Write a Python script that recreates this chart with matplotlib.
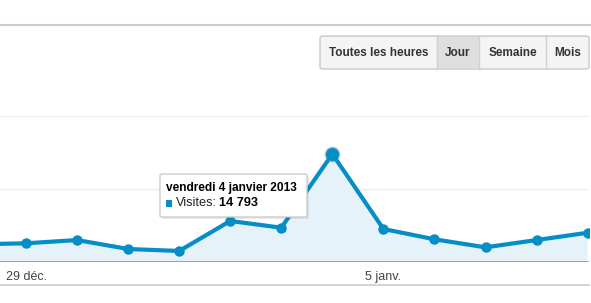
import datetime as dt
import matplotlib
matplotlib.use("Agg")
import matplotlib.pyplot as plt
import matplotlib.dates as mdates
from matplotlib.patches import FancyBboxPatch, Rectangle
from matplotlib.lines import Line2D

plt.rcParams["font.family"] = ["Liberation Sans", "DejaVu Sans"]

# daily visits, 28 Dec 2012 -> 9 Jan 2013 (first point sits off the left edge)
days = ["2012-12-28", "2012-12-29", "2012-12-30", "2012-12-31", "2013-01-01",
        "2013-01-02", "2013-01-03", "2013-01-04", "2013-01-05", "2013-01-06",
        "2013-01-07", "2013-01-08", "2013-01-09"]
visits = [2420, 2560, 3010, 1780, 1510, 5620, 4700, 14793, 4520, 3110,
          2010, 3010, 4010]
tick_days = ["2012-12-29", "2013-01-05"]
tick_labels = ["29 déc.", "5 janv."]
grid_vals = [10000, 20000]
buttons = ["Toutes les heures", "Jour", "Semaine", "Mois"]
active_button = "Jour"
hover_day = "2013-01-04"
hover_text = "vendredi 4 janvier 2013"

LINE = "#058DC7"
FILL = "#E6F2F9"
TXT = "#333333"

W, H = 591, 303
fig = plt.figure(figsize=(W / 100, H / 100), dpi=100)
fig.patch.set_facecolor("white")


def fx(x):
    return x / W


def fy(y):
    return 1 - y / H


dates = [dt.datetime.strptime(d, "%Y-%m-%d") for d in days]
xnum = mdates.date2num(dates)
ref = mdates.date2num(dt.datetime(2012, 12, 29))
px_per_day = 51.06

ax = fig.add_axes([0, fy(262), fx(589), fy(24) - fy(262)])
ax.set_xlim(ref - 26 / px_per_day, ref + (589 - 26) / px_per_day)
ax.set_ylim(0, (262 - 24) / 73 * 10000)
for s in ax.spines.values():
    s.set_visible(False)
ax.set_yticks([])

for g in grid_vals:
    ax.axhline(g, color="#eeeeee", lw=1, zorder=0)

ax.fill_between(xnum, visits, 0, color=FILL, lw=0, zorder=1)
ax.plot(xnum, visits, color=LINE, lw=3.0, marker="o", markersize=6.5,
        solid_joinstyle="round", zorder=3, clip_on=True)

# hovered point glow
hi = days.index(hover_day)
ax.plot(xnum[hi], visits[hi], "o", color="#6b8fa3", markersize=10.5,
        alpha=0.35, zorder=4)
ax.plot(xnum[hi], visits[hi], "o", color=LINE, markersize=8.5, zorder=5)

ax.axhline(0, color="#8a8a8a", lw=1.8, zorder=6)

ticks = mdates.date2num([dt.datetime.strptime(d, "%Y-%m-%d") for d in tick_days])
ax.set_xticks(ticks)
ax.set_xticklabels(tick_labels, fontsize=9, color="#444444")
ax.tick_params(axis="x", length=0, pad=6.2)

# frame lines
fig.add_artist(Line2D([0, 1], [fy(24.5), fy(24.5)], color="#cccccc", lw=1.5))
fig.add_artist(Line2D([0, fx(589)], [fy(285), fy(285)], color="#cccccc", lw=1.2))

# tooltip
shadow = FancyBboxPatch((fx(162), fy(219)), fx(147), fy(176) - fy(219),
                        boxstyle="round,pad=0,rounding_size=0.004",
                        transform=fig.transFigure, fc="#000000", ec="none",
                        alpha=0.08, zorder=9)
fig.add_artist(shadow)
tip = FancyBboxPatch((fx(160), fy(217)), fx(147), fy(174) - fy(217),
                     boxstyle="round,pad=0,rounding_size=0.004",
                     transform=fig.transFigure, fc="white", ec="#cccccc",
                     lw=1, zorder=10)
fig.add_artist(tip)
fig.text(fx(166), fy(188.5), hover_text, fontsize=8.6, fontweight="bold",
         color="#000000", va="center", ha="left", zorder=11)
fig.add_artist(Rectangle((fx(166), fy(206.5)), fx(6), fy(200) - fy(206.5),
                         transform=fig.transFigure, fc=LINE, ec="none",
                         zorder=11))
fig.text(fx(176), fy(203.5), "Visites:", fontsize=9.2, color="#222222",
         va="center", ha="left", zorder=11)
fig.text(fx(219), fy(203.5), f"{visits[hi]:,}".replace(",", " "), fontsize=9.2,
         fontweight="bold", color="#000000", va="center", ha="left", zorder=11)

# button group
edges = [320, 437, 479, 546, 589]
top, bot = 36, 69
group = FancyBboxPatch((fx(320), fy(bot)), fx(269), fy(top) - fy(bot),
                       boxstyle="round,pad=0,rounding_size=0.006",
                       transform=fig.transFigure, fc="#f4f4f4", ec="#c8c8c8",
                       lw=1, zorder=10)
fig.add_artist(group)
for i, name in enumerate(buttons):
    x0, x1 = edges[i], edges[i + 1]
    if name == active_button:
        fig.add_artist(Rectangle((fx(x0), fy(bot - 1)), fx(x1 - x0),
                                 fy(top + 1) - fy(bot - 1),
                                 transform=fig.transFigure, fc="#dedede",
                                 ec="none", zorder=11))
    if i > 0:
        fig.add_artist(Line2D([fx(x0), fx(x0)], [fy(bot), fy(top)],
                              color="#d0d0d0", lw=1, zorder=12))
    fig.text(fx((x0 + x1) / 2), fy(53.5), name, fontsize=8.5, fontweight="bold",
             color=TXT, ha="center", va="center", zorder=13)

fig.savefig("out.png", dpi=100, facecolor="white")
